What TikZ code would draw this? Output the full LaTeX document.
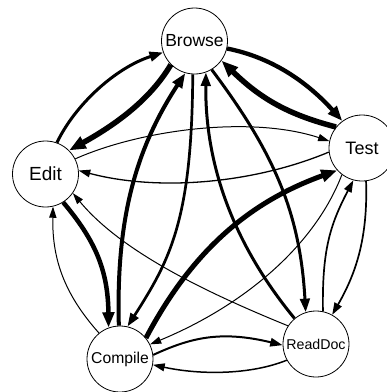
\documentclass[tikz,border=0pt]{standalone}
\usepackage{fontspec}
\setmainfont{Liberation Sans}
\usetikzlibrary{arrows.meta}
\tikzset{
  state/.style={draw, circle, line width=0.8pt, minimum size=66pt, inner sep=0pt},
  edge/.style={-{Triangle[length=10pt 1.2, width=6pt 1.2]}},
}
\begin{document}
\begin{tikzpicture}[x=1pt,y=-1pt]
\useasboundingbox (0,0) rectangle (387,392);
\node[state] (browse) at (194.5,41) {\fontsize{17.5}{20}\selectfont Browse};
\node[state] (edit) at (45.5,174) {\fontsize{19}{22}\selectfont Edit};
\node[state] (test) at (362,148) {\fontsize{18}{21}\selectfont Test};
\node[state] (compile) at (120,359) {\fontsize{15.7}{18}\selectfont Compile};
\node[state] (readdoc) at (316,344) {\fontsize{14.2}{17}\selectfont ReadDoc};

% Edit -> Browse
\draw[edge, line width=3pt] (edit.70) .. controls (75,105) and (115,68) .. (browse.200);
% Browse -> Edit
\draw[edge, line width=5.5pt] (browse.225) .. controls (150,100) and (115,125) .. (edit.45);
% Browse -> Test
\draw[edge, line width=4.3pt] (browse.347) .. controls (275,58) and (310,85) .. (test.126);
% Test -> Browse
\draw[edge, line width=5.5pt] (test.141) .. controls (290,115) and (262,100) .. (browse.-36);
% Edit -> Test
\draw[edge, line width=1pt] (edit.27) .. controls (140,130) and (250,115) .. (test.168);
% Test -> Edit
\draw[edge, line width=1.3pt] (test.187) .. controls (255,183) and (160,192) .. (edit.6);
% Edit -> Compile
\draw[edge, line width=4.5pt] (edit.-58) .. controls (95,240) and (108,270) .. (compile.110);
% Compile -> Edit
\draw[edge, line width=1pt] (compile.129) .. controls (65,295) and (52,260) .. (edit.-77);
% Compile -> Browse
\draw[edge, line width=4pt] (compile.92) .. controls (116,220) and (135,150) .. (browse.254);
% Browse -> Compile
\draw[edge, line width=2.7pt] (browse.267) .. controls (192,220) and (170,260) .. (compile.77);
% ReadDoc -> Browse
\draw[edge, line width=3pt] (readdoc.130) .. controls (230,240) and (205,160) .. (browse.-70);
% Browse -> ReadDoc
\draw[edge, line width=3pt] (browse.-59) .. controls (272,150) and (300,210) .. (readdoc.108);
% Compile -> Test
\draw[edge, line width=5pt] (compile.39) .. controls (195,245) and (255,200) .. (test.222);
% Test -> Compile
\draw[edge, line width=1pt] (test.233) .. controls (315,245) and (245,305) .. (compile.26);
% ReadDoc -> Edit
\draw[edge, line width=1pt] (readdoc.147) .. controls (200,290) and (120,250) .. (edit.-35);
% ReadDoc -> Test
\draw[edge, line width=1.7pt] (readdoc.78) .. controls (322,250) and (330,225) .. (test.-105);
% Test -> ReadDoc
\draw[edge, line width=1.7pt] (test.-83) .. controls (368,240) and (355,275) .. (readdoc.61);
% Compile -> ReadDoc
\draw[edge, line width=2pt] (compile.7) .. controls (190,338) and (220,330) .. (readdoc.182);
% ReadDoc -> Compile
\draw[edge, line width=1.5pt] (readdoc.209) .. controls (250,375) and (200,375) .. (compile.-10);
\end{tikzpicture}
\end{document}
